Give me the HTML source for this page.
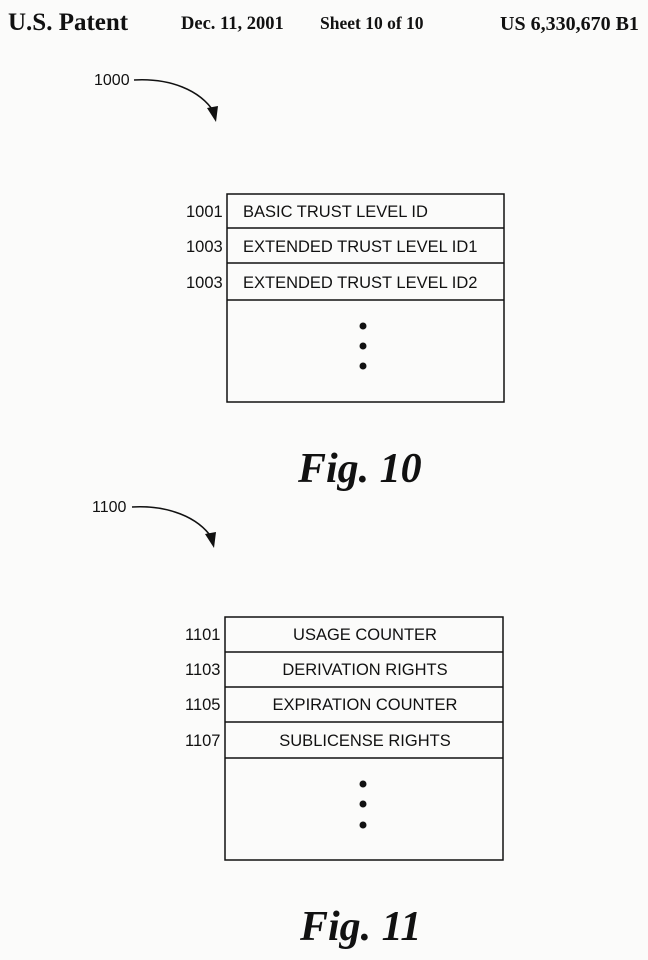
<!DOCTYPE html>
<html><head><style>
body{margin:0;background:#fff}
svg{display:block}
text{font-family:"Liberation Sans",sans-serif;fill:#111}
.s{font-family:"Liberation Serif",serif;font-weight:bold}
.f{font-family:"Liberation Serif",serif;font-style:italic;font-weight:bold}
</style></head><body>
<svg width="648" height="960" viewBox="0 0 648 960">
<rect width="648" height="960" fill="#fbfbfa"/>
<text class="s" x="8" y="30" font-size="25">U.S. Patent</text>
<text class="s" x="181" y="29" font-size="18.5">Dec. 11, 2001</text>
<text class="s" x="320" y="29" font-size="17.5">Sheet 10 of 10</text>
<text class="s" x="500" y="30" font-size="20">US 6,330,670 B1</text>

<text x="94" y="85" font-size="16">1000</text>
<path d="M134 80 C170 78 200 90 214 112" fill="none" stroke="#111" stroke-width="1.5"/>
<polygon points="207,108 218,106 216,122" fill="#111"/>

<g fill="none" stroke="#111" stroke-width="1.5">
<rect x="227" y="194" width="277" height="208"/>
<line x1="227" y1="228" x2="504" y2="228"/>
<line x1="227" y1="263" x2="504" y2="263"/>
<line x1="227" y1="300" x2="504" y2="300"/>
</g>
<g font-size="16.5">
<text x="186" y="217">1001</text><text x="243" y="217">BASIC TRUST LEVEL ID</text>
<text x="186" y="252">1003</text><text x="243" y="252">EXTENDED TRUST LEVEL ID1</text>
<text x="186" y="288">1003</text><text x="243" y="288">EXTENDED TRUST LEVEL ID2</text>
</g>
<circle cx="363" cy="326" r="3.5" fill="#111"/><circle cx="363" cy="346" r="3.5" fill="#111"/><circle cx="363" cy="366" r="3.5" fill="#111"/>
<text class="f" x="298" y="482" font-size="42">Fig. 10</text>

<text x="92" y="512" font-size="16">1100</text>
<path d="M132 507 C168 505 198 517 212 538" fill="none" stroke="#111" stroke-width="1.5"/>
<polygon points="205,534 216,532 214,548" fill="#111"/>

<g fill="none" stroke="#111" stroke-width="1.5">
<rect x="225" y="617" width="278" height="243"/>
<line x1="225" y1="652" x2="503" y2="652"/>
<line x1="225" y1="687" x2="503" y2="687"/>
<line x1="225" y1="722" x2="503" y2="722"/>
<line x1="225" y1="758" x2="503" y2="758"/>
</g>
<g font-size="16.5">
<text x="185" y="640">1101</text><text x="365" y="640" text-anchor="middle">USAGE COUNTER</text>
<text x="185" y="675">1103</text><text x="365" y="675" text-anchor="middle">DERIVATION RIGHTS</text>
<text x="185" y="710">1105</text><text x="365" y="710" text-anchor="middle">EXPIRATION COUNTER</text>
<text x="185" y="746">1107</text><text x="365" y="746" text-anchor="middle">SUBLICENSE RIGHTS</text>
</g>
<circle cx="363" cy="784" r="3.5" fill="#111"/><circle cx="363" cy="804" r="3.5" fill="#111"/><circle cx="363" cy="825" r="3.5" fill="#111"/>
<text class="f" x="300" y="940" font-size="42">Fig. 11</text>
</svg>
</body></html>
